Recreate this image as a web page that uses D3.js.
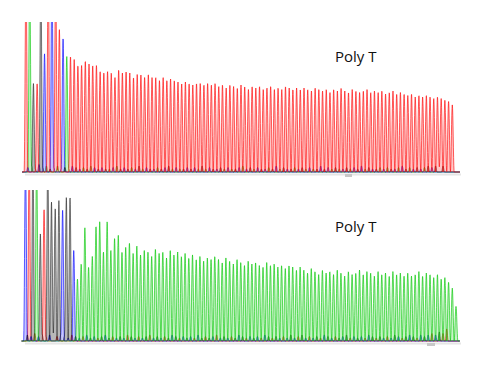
<!DOCTYPE html>
<html><head><meta charset="utf-8">
<script src="https://cdn.jsdelivr.net/npm/d3@7"></script>
<style>body{margin:0;background:#fff} svg{display:block}</style>
</head><body>
<svg id="c" width="481" height="385"></svg>
<script>
// ---- data ----
const labels = ["Poly T", "Poly T"];
const baseColors = {A: "0,200,0", C: "0,0,255", G: "0,0,0", T: "255,0,0"};

// top read: base calls and peak heights (0-100 = panel height)
const topBases = "TAGTGCTCTTCA" +
  "TTTTTTTTTTTTTTTTTTTTTTTTTTTTTTTTTTTTTTTTTTTTTTTTTTTTTTTTTTTTTTTTTTTTTTTTTTTTTTTTTTTTTTTTTTTTTTTTTTTTTTTT";
const topHeights = [130,130,59,59,130,79,130,130,130,95,89,77,
  77,75,71,71,74,72,71,71,
  67,66,67,66,63,68,66,67,66,63,65,65,63,65,63,63,61,63,61,62,61,60,59,60,59,58,59,59,58,59,58,59,
  57,58,56,58,57,56,58,57,55,57,56,57,55,56,57,55,56,55,57,56,55,56,55,
  56,55,54,56,55,54,55,53,55,54,56,54,53,55,54,53,54,55,53,54,53,54,52,53,54,52,53,52,
  51,52,50,51,50,51,50,49,50,49,48,47,45,38];
const topNoiseBases = "CAGCGAGCACGACGCAGACGCGACAGCGACGACGCAGCGACAGCGCAGACGCGACAGCACGACGCAGCAGCGACGACAGCGCAGACGACGCAGCGACAGCACGACGCAGCGTG";
const topNoiseHeights = [3,4,2,5,3,4,2,3,4,2,3,2,4,3,2,3,2,4,3,2,3,2,2,3,4,2,3,2,3,2,4,2,3,2,2,3,2,3,4,2,3,2,2,3,2,3,2,4,2,3,2,2,3,2,3,2,2,3,4,2,3,2,3,2,2,3,2,4,2,3,2,2,3,2,3,2,3,2,2,4,2,3,2,3,2,2,3,2,3,2,4,2,3,2,2,3,2,3,2,2,3,4,2,3,2,3,2,3,4,3,4,3,4,5,4,6,7];

// bottom read
const botBases = "CTGAGTGGGGCGGCAAAAAAAAAAAAAA" +
  "AAAAAAAAAAAAAAAAAAAAAAAAAAAAAAAAAAAAAAAAAAAAAAAAAAAAAAAAAAAAAAAAAAAAAAAAAAAAAAAAAAAAAAAAA";
const botHeights = [120,120,120,120,71,87,120,92,88,93,87,95,95,60,41,51,75,49,56,76,79,59,79,60,68,70,59,62,
  65,58,63,57,60,59,56,61,58,59,55,60,57,59,56,58,55,57,54,56,53,55,54,56,
  54,52,55,53,51,54,52,50,53,51,52,50,49,52,50,51,49,50,48,50,49,47,49,
  47,45,48,46,44,47,45,46,44,47,45,43,46,44,45,47,44,46,45,43,46,44,45,43,46,44,45,43,
  45,43,44,46,43,45,44,42,44,41,42,39,35,23];
const botNoiseBases = "GCTCGTCGTCGCTGCTCGCTGCGTCGCTGCTCGTCGCTGCGTCGCTCGTGCTCGCTGCGTCGCTCGTGCTCGCTGCTCGTCGCTGCGTCGCTCGTGCTCGCTGCGTCGCTCGTT";
const botNoiseHeights = [4,3,5,3,4,3,4,5,3,4,3,2,4,3,2,3,4,2,3,2,3,4,2,3,2,3,2,4,3,2,3,2,3,4,2,3,2,3,2,4,3,2,3,2,3,2,4,2,3,2,3,4,2,3,2,3,2,4,3,2,3,2,3,2,4,3,2,3,2,3,2,4,2,3,4,2,3,2,3,2,4,3,2,3,2,3,4,2,3,2,3,2,4,3,2,3,2,3,2,4,3,2,3,4,3,2,4,3,4,5,4,6,5,8,10,14,22];

// ---- drawing ----
const svg = d3.select("#c");
const panels = [
  {bases: topBases, heights: topHeights, nb: topNoiseBases, nh: topNoiseHeights,
   x0: 26, x1: 456, base: 172, top: 22, label: labels[0], ly: 62, scroll: [345, 352]},
  {bases: botBases, heights: botHeights, nb: botNoiseBases, nh: botNoiseHeights,
   x0: 25.5, x1: 456, base: 341, top: 190, label: labels[1], ly: 232, scroll: [427, 435]}
];

const defs = svg.append("defs");
panels.forEach((p, pi) => {
  const n = p.heights.length;
  const x = d3.scaleLinear().domain([0, n - 1]).range([p.x0, p.x1]);
  const y = d3.scaleLinear().domain([0, 100]).range([p.base, p.top]);
  const half = (x(1) - x(0)) / 2;

  svg.append("rect").attr("x", 25).attr("y", p.base + 1.5).attr("width", 436).attr("height", 2)
    .attr("fill", "#e6e6e6");
  svg.append("rect").attr("x", p.scroll[0]).attr("y", p.base + 2).attr("width", p.scroll[1] - p.scroll[0])
    .attr("height", 3).attr("fill", "#c8c8c8");

  defs.append("clipPath").attr("id", "clip" + pi).append("rect")
    .attr("x", 20).attr("y", p.top).attr("width", 445).attr("height", p.base - p.top + 1.5);

  const g = svg.append("g").attr("clip-path", `url(#clip${pi})`);
  const peaks = {A: [], C: [], G: [], T: []};
  for (let i = 0; i < n; i++) {
    const b = p.bases[i];
    if (peaks[b]) peaks[b].push({c: x(i), h: p.heights[i], w: half * 1.02});
  }
  for (let i = 0; i < p.nh.length; i++) {
    const b = p.nb[i];
    if (peaks[b]) peaks[b].push({c: x(i + 0.5), h: p.nh[i], w: half * 0.8});
  }
  const order = pi === 0 ? ["A", "C", "G", "T"] : ["T", "C", "G", "A"];
  const line = d3.line().x(d => d[0]).y(d => y(d[1]));
  const area = d3.area().x(d => d[0]).y0(y(0)).y1(d => y(d[1]));
  order.forEach(b => {
    const pk = peaks[b];
    const pts = [];
    for (let px = p.x0 - 4; px <= p.x1 + 4; px += 0.2) {
      let v = 0;
      for (const q of pk) {
        const dx = Math.abs(px - q.c);
        if (dx < q.w) { const c = Math.cos(Math.PI * dx / (2 * q.w)); v += q.h * c * c; }
      }
      pts.push([px, v]);
    }
    const col = baseColors[b];
    g.append("path").attr("d", area(pts))
      .attr("fill", `rgba(${col},${b === "G" ? 0.28 : 0.22})`);
    g.append("path").attr("d", line(pts)).attr("fill", "none")
      .attr("stroke", `rgba(${col},${b === "G" ? 0.55 : 0.7})`).attr("stroke-width", 0.9);
  });

  svg.append("text").attr("x", 335).attr("y", p.ly)
    .attr("font-family", "'Open Sans', sans-serif").attr("font-size", 15)
    .attr("fill", "#111").text(p.label);
});
</script>
</body></html>
